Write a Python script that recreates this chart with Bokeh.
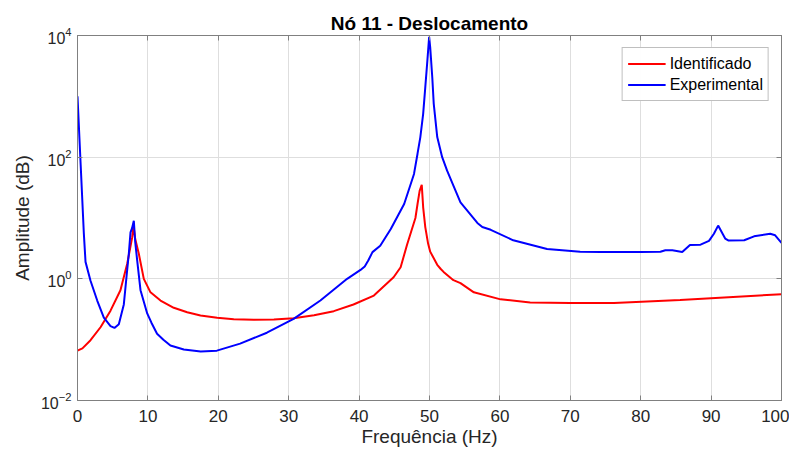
from bokeh.plotting import figure
from bokeh.models import (FixedTicker, LinearAxis, LogAxis, Legend, LegendItem, Range1d,
                          CustomJSTickFormatter)
from bokeh.embed import file_html
from bokeh.resources import INLINE

# ---- data ----
exp_x = [0, 0.45, 0.9, 1.14, 1.85, 2.8, 3.74, 4.69, 5.25, 5.87, 6.58, 7.0, 7.29, 7.53, 7.75,
         8.0, 8.2, 8.48, 8.95, 9.9, 10.5, 11.3, 12.2, 13.2, 15.1, 17.5, 19.8, 23.1, 26.9, 30.7,
         34.5, 38.3, 40.2, 40.8, 41.3, 41.9, 43.0, 44.5, 46.4, 47.8, 48.3, 48.7, 49.1, 49.4,
         49.7, 49.95, 50.1, 50.4, 50.6, 51.1, 51.8, 52.5, 53.5, 54.4, 56.8, 57.5, 58.7, 61.9,
         66.7, 71.4, 74.3, 77.1, 80, 82.8, 83.5, 84.5, 85.9, 87.0, 88.5, 89.7, 90.4, 91.0,
         92.0, 92.5, 94.7, 96.1, 98.4, 99.1, 100]
exp_y = [1000, 75, 5.6, 1.9, 0.93, 0.44, 0.23, 0.167, 0.156, 0.18, 0.38, 1.2, 2.6, 5.8, 6.8,
         9.0, 4.0, 2.0, 0.65, 0.27, 0.19, 0.125, 0.1, 0.08, 0.069, 0.064, 0.066, 0.086, 0.13, 0.22,
         0.44, 1.0, 1.4, 1.6, 2.0, 2.75, 3.5, 6.6, 17, 53, 114, 214, 515, 1400,
         3900, 9500, 6400, 2000, 760, 214, 100, 60, 32, 18, 8.3, 7.1, 6.4, 4.3,
         3.1, 2.8, 2.75, 2.75, 2.75, 2.78, 2.95, 2.95, 2.75, 3.6, 3.65, 4.2, 5.5, 7.5,
         4.6, 4.25, 4.3, 5.0, 5.5, 5.2, 3.9]

id_x = [0, 0.7, 1.85, 3.27, 4.69, 6.1, 7.06, 7.77, 7.95, 8.2, 8.71, 9.42, 10.37, 11.79, 13.68,
        15.58, 17.47, 19.84, 22.2, 25.04, 27.9, 30.7, 33.6, 36.4, 39.2, 42.1, 44.9, 45.9,
        46.8, 47.4, 48.0, 48.3, 48.6, 48.9, 49.1, 49.4, 49.8, 50.1, 51.1, 51.6, 52.0, 53.4,
        54.4, 56.3, 60.1, 64.3, 70, 76.2, 85.6, 100]
id_y = [0.066, 0.072, 0.098, 0.16, 0.30, 0.65, 1.77, 4.8, 7.5, 4.5, 2.58, 1.0, 0.60, 0.44, 0.334,
        0.283, 0.249, 0.229, 0.217, 0.212, 0.214, 0.225, 0.252, 0.294, 0.378, 0.53, 1.06, 1.55,
        3.6, 6.0, 10, 17, 28, 35, 15, 7.1, 3.8, 2.8, 1.7, 1.45, 1.3, 0.95,
        0.85, 0.60, 0.46, 0.41, 0.40, 0.40, 0.45, 0.56]

x_ticks = [0, 10, 20, 30, 40, 50, 60, 70, 80, 90, 100]
y_ticks = [1e-2, 1e0, 1e2, 1e4]

FONT = "Liberation Sans"
AX = "#262626"
FRAME = "#808080"

p = figure(width=789, height=452, output_backend="svg", toolbar_location=None,
           y_axis_type="log", x_range=Range1d(0, 100), y_range=Range1d(1e-2, 1e4),
           min_border_left=77, min_border_right=8, min_border_top=35, min_border_bottom=52,
           title="Nó 11 - Deslocamento")

p.title.align = "center"
p.title.text_font = FONT
p.title.text_font_size = "19px"
p.title.text_font_style = "bold"
p.title.text_color = "#000000"
p.title.standoff = 4

p.outline_line_color = FRAME
p.outline_line_width = 1
p.background_fill_color = "white"

for ax in (p.xaxis[0], p.yaxis[0]):
    ax.axis_line_color = FRAME
    ax.major_tick_line_color = FRAME
    ax.major_tick_in = 5
    ax.major_tick_out = 0
    ax.minor_tick_line_color = None
    ax.major_label_text_font = FONT
    ax.major_label_text_color = AX
    ax.axis_label_text_font = FONT
    ax.axis_label_text_font_size = "19px"
    ax.axis_label_text_font_style = "normal"
    ax.axis_label_text_color = AX

p.xaxis[0].major_label_text_font_size = "17px"
p.yaxis[0].major_label_text_font_size = "16px"
p.xaxis[0].ticker = FixedTicker(ticks=x_ticks)
p.yaxis[0].ticker = FixedTicker(ticks=y_ticks)
p.xaxis[0].axis_label = "Frequência (Hz)"
p.yaxis[0].axis_label = "Amplitude (dB)"
p.xaxis[0].major_label_standoff = 9
p.xaxis[0].axis_label_standoff = 1
p.yaxis[0].major_label_standoff = 6
p.yaxis[0].axis_label_standoff = 5

# mirrored ticks on top and right (MATLAB box), no labels
blank = CustomJSTickFormatter(code="return ''")
top = LinearAxis(ticker=FixedTicker(ticks=x_ticks), formatter=blank,
                 axis_line_color=FRAME, major_tick_line_color=FRAME, major_tick_in=5,
                 major_tick_out=0, minor_tick_line_color=None, major_label_standoff=0,
                 major_label_text_font_size="1px")
right = LogAxis(ticker=FixedTicker(ticks=y_ticks), formatter=blank,
                axis_line_color=FRAME, major_tick_line_color=FRAME, major_tick_in=5,
                major_tick_out=0, minor_tick_line_color=None, major_label_standoff=0,
                major_label_text_font_size="1px")
p.add_layout(top, "above")
p.add_layout(right, "right")

p.xgrid.ticker = FixedTicker(ticks=x_ticks)
p.ygrid.ticker = FixedTicker(ticks=y_ticks)
p.grid.grid_line_color = "#dedede"
p.grid.grid_line_width = 1

r_id = p.line(id_x, id_y, line_color="#ff0000", line_width=2)
r_exp = p.line(exp_x, exp_y, line_color="#0000ff", line_width=2)

legend = Legend(items=[LegendItem(label="Identificado", renderers=[r_id]),
                       LegendItem(label="Experimental", renderers=[r_exp])],
                location="top_right")
legend.label_text_font = FONT
legend.label_text_font_size = "16px"
legend.label_text_color = "#000000"
legend.border_line_color = "#808080"
legend.border_line_width = 1
legend.margin = 12
legend.padding = 5
legend.spacing = 0
legend.glyph_width = 38
legend.glyph_height = 21
legend.label_standoff = 4
legend.label_height = 21
p.add_layout(legend)

open("out.html", "w").write(file_html(p, INLINE))
